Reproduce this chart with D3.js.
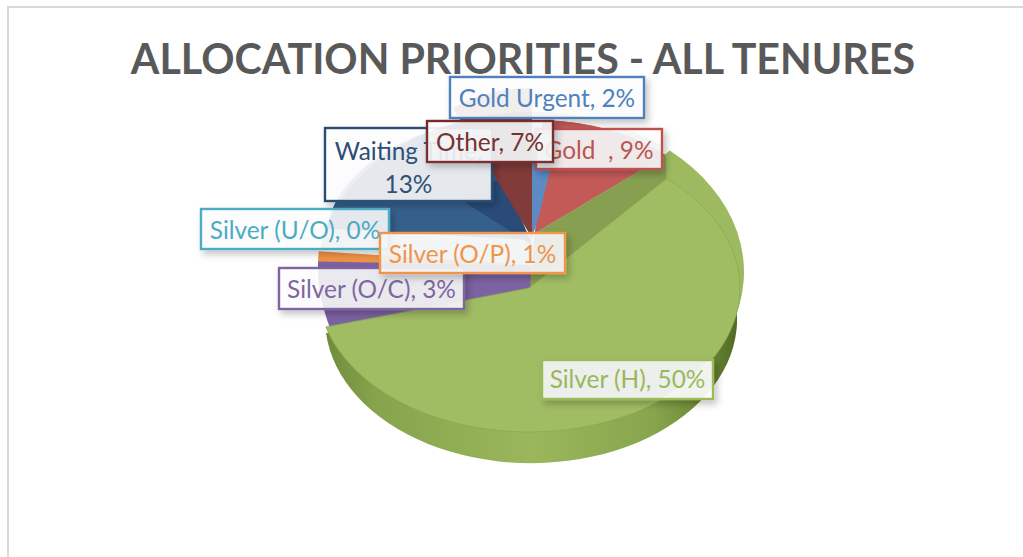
<!DOCTYPE html>
<html><head><meta charset="utf-8">
<script src="https://cdn.jsdelivr.net/npm/d3@7/dist/d3.min.js"></script>
<style>html,body{margin:0;padding:0;background:#fff}svg{display:block}</style>
</head><body><svg id="c" width="1023" height="557"></svg>
<script>
const title = "ALLOCATION PRIORITIES - ALL TENURES";
const categories = ["Gold Urgent","Gold  ","Silver (H)","Silver (O/C)","Silver (U/O)","Silver (O/P)","Waiting Time","Other"];
const values = [2,9,50,3,0,1,13,7];
const colors = ["#4f81bd","#c0504d","#9bbb59","#8064a2","#4bacc6","#f79646","#2c4d75","#772c2a"];

const svg = d3.select("#c");
const defs = svg.append("defs");
const sh = defs.append("filter").attr("id","sh").attr("x","-20%").attr("y","-30%").attr("width","140%").attr("height","170%");
sh.append("feDropShadow").attr("dx",3).attr("dy",4).attr("stdDeviation",3.5).attr("flood-color","#000").attr("flood-opacity",.25);
const wg = defs.append("linearGradient").attr("id","wall").attr("x1",0).attr("x2",1).attr("y1",0).attr("y2",0);
[[0,"#6f8c3c"],[.12,"#86a44c"],[.5,"#9ab75c"],[.8,"#87a54d"],[.95,"#647f2f"],[1,"#4f6a25"]].forEach(s=>wg.append("stop").attr("offset",s[0]).attr("stop-color",s[1]));

svg.append("path").attr("d","M8 557V7H1023").attr("fill","none").attr("stroke","#d9d9d9").attr("stroke-width",2);

const pie = d3.pie().sort(null).value(d=>d)(values);
const deg = Math.PI/180;
const arc = d3.arc().innerRadius(0).outerRadius(1);
function wedge(i,cx,cy,rx,ry,fill,a0=0,a1=0){
  const p = pie[i];
  return svg.append("path")
    .attr("d",arc({startAngle:p.startAngle+a0*deg,endAngle:p.endAngle+a1*deg}))
    .attr("transform",`translate(${cx},${cy}) scale(${rx},${ry})`)
    .attr("fill",fill);
}
const cx=531, G=2;

// rear plane slices
wedge(6,cx,240,205,125,"#36608c",0,12);
wedge(6,532,245,90,70,"#2a4b78",34,12);
wedge(1,535,233,180,113,"#c45a58",-6,0);
wedge(0,532,238,180,105,"#5b8ac4",-8,2);
wedge(1,535,233,180,113,"#c45a58");
wedge(7,532,238,160,150,"#813b39",0,0);

// left front slices
wedge(5,cx,265,213,150,"#ef9345");
wedge(4,cx,265,213,150,colors[4]);
wedge(3,cx,265,213,190,"#7d62a3",-85,0);

// green: wall, rear rim, inner side, top face
wedge(G,cx,319,206,144,"url(#wall)",0,6);
wedge(G,cx,272,213,160,"#9dba60",-6,-78);
const sa = pie[G].startAngle;
const rearPt  = [535+180*Math.sin(sa), 233-113*Math.cos(sa)];
const frontPt = [529+211*Math.sin(sa-6*deg), 288-144*Math.cos(sa-6*deg)];
svg.append("path").attr("d",d3.line()([rearPt,[535,233],[530,288],frontPt])+"Z").attr("fill","#869f50");
wedge(G,529,288,211,144,"#a1bd64",-6,-4)
  .attr("stroke","#8ba650").attr("stroke-width",.7).attr("vector-effect","non-scaling-stroke");

// labels
const boxes = [
 {i:6,x:325,y:128,w:167,h:73,lines:["Waiting Time,","13%"]},
 {i:0,x:450,y:77,w:194,h:41},
 {i:1,x:536,y:129,w:126,h:40},
 {i:7,x:427,y:121,w:126,h:41},
 {i:4,x:201,y:209,w:188,h:40},
 {i:3,x:279,y:268,w:185,h:41},
 {i:5,x:380,y:233,w:185,h:40},
 {i:2,x:542,y:360,w:171,h:39,dy:-1.5}
];
const clip = defs.append("clipPath").attr("id","lab");
boxes.forEach(b=>{
  clip.append("rect").attr("x",b.x).attr("y",b.y).attr("width",b.w).attr("height",b.h);
});
boxes.forEach(b=>{
  const g = svg.append("g");
  g.append("rect").attr("x",b.x).attr("y",b.y).attr("width",b.w).attr("height",b.h)
    .attr("fill","#fff").attr("fill-opacity",.9).attr("stroke",colors[b.i])
    .attr("stroke-width",2.4).attr("filter","url(#sh)");
  const lines = b.lines || [`${categories[b.i]}, ${values[b.i]}%`];
  lines.forEach((t,k)=>{
    g.append("text").attr("x",b.x+b.w/2).attr("y",b.y+(b.lines?32:29.5)+(b.dy||0)+k*32.5)
     .attr("text-anchor","middle").attr("font-family","Lato").attr("font-size",24.4)
     .style("white-space","pre").attr("fill",colors[b.i]).text(t);
  });
});
// sheen of the pie's plate, seen only through the label boxes
svg.append("ellipse").attr("cx",cx).attr("cy",272).attr("rx",213).attr("ry",160)
  .attr("fill","#7f8ba0").attr("opacity",.07).attr("clip-path","url(#lab)");

svg.append("text").attr("x",523).attr("y",73.5).attr("text-anchor","middle")
  .attr("font-family","Lato").attr("font-weight",700).attr("font-size",41.2).attr("fill","#595959").text(title);
</script></body></html>
